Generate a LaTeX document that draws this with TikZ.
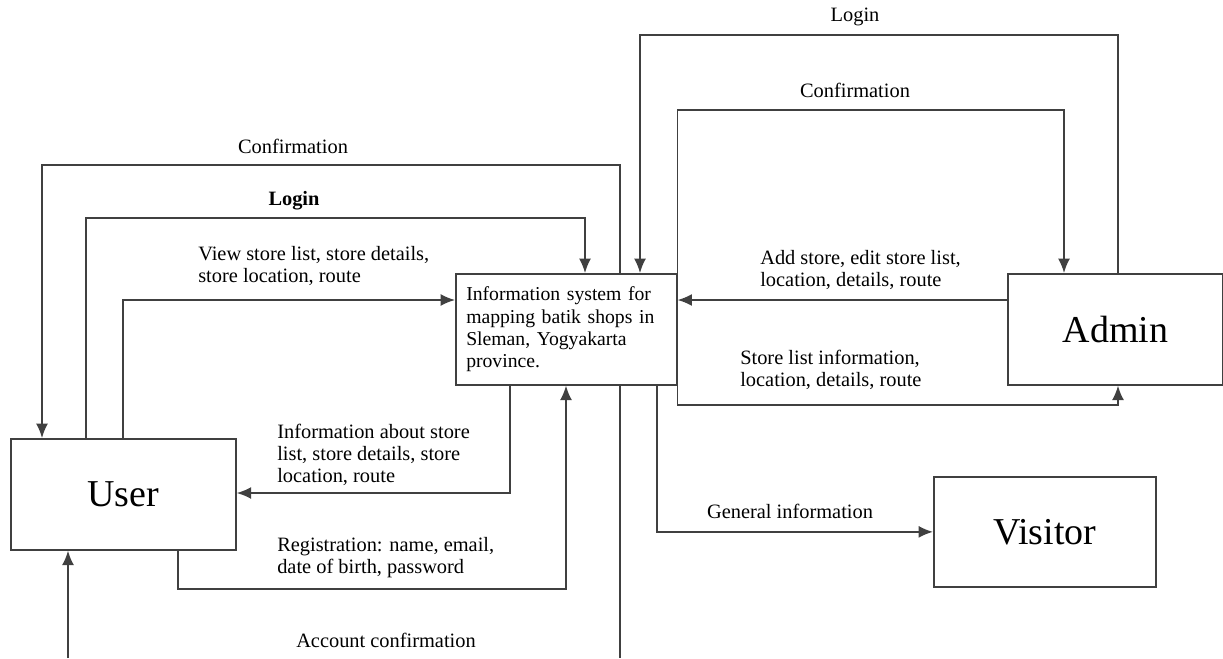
\documentclass[tikz,border=0pt]{standalone}
\usepackage{fontspec}
\setmainfont{Liberation Serif}
\usetikzlibrary{calc,arrows.meta}

\begin{document}
\begin{tikzpicture}[x=0.025cm,y=-0.025cm,
  box/.style={draw=black!75,line width=1.2pt,anchor=north west,inner sep=0pt,minimum height=2.775cm},
  flow/.style={draw=black!75,line width=1.2pt,-{Latex[length=0.36cm,width=0.3cm]}},
  lbl/.style={font=\fontsize{14.5}{15.6}\selectfont,align=left,inner sep=0pt}]
  \useasboundingbox (0,0) rectangle (1223,658);

  % entities and process
  \node[box,minimum width=5.625cm,font=\fontsize{27}{30}\selectfont] (user) at (10,438) {User};
  \node[box,minimum width=5.375cm,font=\fontsize{27}{30}\selectfont] (admin) at (1007,273) {Admin};
  \node[box,minimum width=5.55cm,minimum height=2.75cm,font=\fontsize{27}{30}\selectfont] (visitor) at (933,476) {Visitor};
  \node[box,text width=5.0cm,inner xsep=0.26cm,align=left,font=\fontsize{14}{15.8}\selectfont] (sys) at (455,273)
    {Information system for\\mapping batik shops in\\Sleman, Yogyakarta\\province.};

  % user side
  \draw[flow] ($(sys.north west)+(165,0)$) -- ++(0,-108) -| ($(user.north west)+(32,0)$);
  \draw[flow] ($(user.north west)+(76,0)$) -- ++(0,-220) -| ($(sys.north west)+(130,0)$);
  \draw[flow] ($(user.north west)+(113,0)$) |- ($(sys.north west)+(0,27)$);
  \draw[flow] ($(sys.south west)+(55,0)$) |- ($(user.north east)+(0,55)$);
  \draw[flow] ($(user.south west)+(168,0)$) -- ++(0,38) -| ($(sys.south west)+(111,0)$);
  \coordinate (accA) at (620,658);
  \coordinate (accB) at (68,658);
  \draw[flow,-] ($(sys.south west)+(165,0)$) -- (accA);
  \draw[flow] (accB) -- ($(user.south west)+(58,0)$);

  \node[lbl] (lconfa) at (293,146) {Confirmation};
  \node[lbl,font=\bfseries\fontsize{14.5}{15.6}\selectfont] (lloga) at (294,201) {Login};
  \node[lbl,anchor=west] (lview) at (198,266) {View store list, store details,\\store location, route};
  \node[lbl,anchor=west] (linfo) at (277,455) {Information about store\\list, store details, store\\location, route};
  \node[lbl,anchor=west] (lreg) at (277,558) {Registration: name, email,\\date of birth, password};
  \node[lbl] (lacc) at (386,640) {Account confirmation};

  % admin side
  \draw[flow] ($(admin.north west)+(111,0)$) -- ++(0,-238) -| ($(sys.north west)+(185,0)$);
  \draw[flow] (sys.north east) -- ++(0,-163) -| ($(admin.north west)+(57,0)$);
  \draw[flow] ($(admin.north west)+(0,27)$) -- ($(sys.north east)+(0,27)$);
  \draw[flow] (sys.south east) -- ++(0,19) -| ($(admin.south west)+(111,0)$);
  \draw[flow] ($(sys.south west)+(202,0)$) |- (visitor.west);

  \node[lbl] (llogb) at (855,17) {Login};
  \node[lbl] (lconfb) at (855,90) {Confirmation};
  \node[lbl,anchor=west] (ladd) at (760,270) {Add store, edit store list,\\location, details, route};
  \node[lbl,anchor=west] (lstore) at (740,370) {Store list information,\\location, details, route};
  \node[lbl] (lgen) at (790,511) {General information};
\end{tikzpicture}
\end{document}
